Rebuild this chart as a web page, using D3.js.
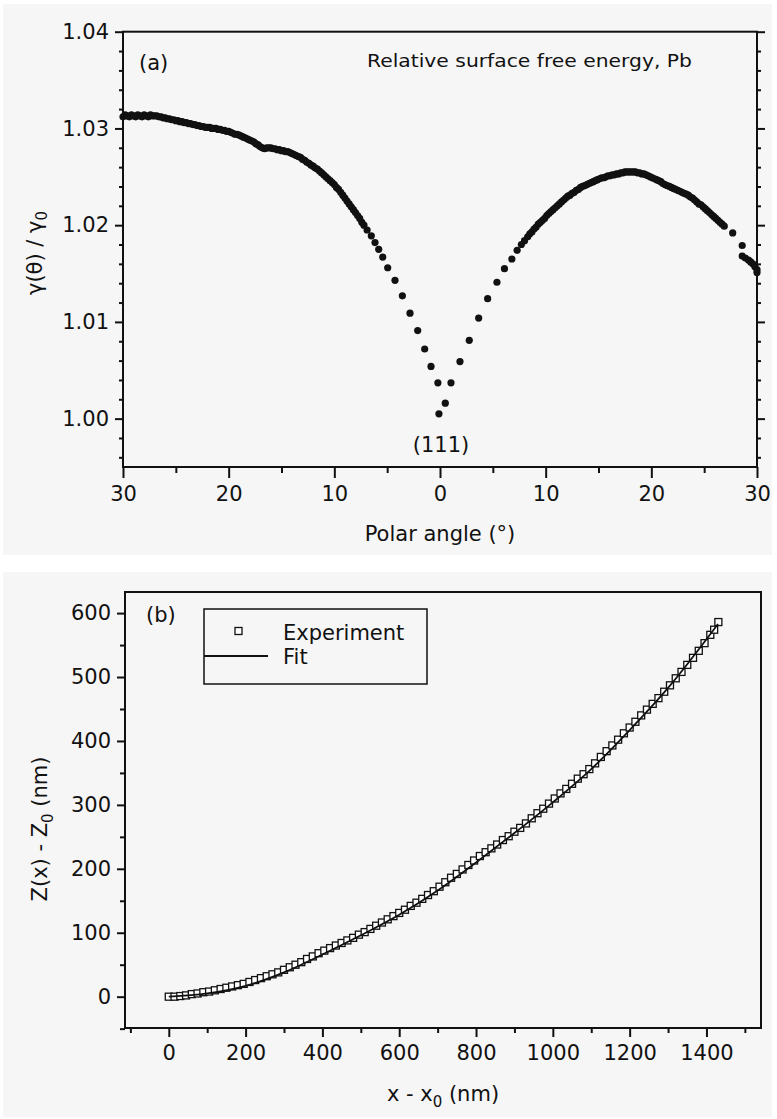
<!DOCTYPE html>
<html>
<head>
<meta charset="utf-8">
<script src="https://cdn.jsdelivr.net/npm/d3@7"></script>
<style>
body { margin: 0; background: #fff; }
text { font-family: "DejaVu Sans", sans-serif; fill: #111; }
</style>
</head>
<body>
<script>
// panel (a): relative surface free energy vs polar angle, three stretches of the scan
var angleLeft = [-30.0,-29.8,-29.6,-29.4,-29.2,-29.0,-28.8,-28.6,-28.4,-28.2,-28.0,-27.8,-27.6,-27.4,-27.2,-27.0,-26.8,-26.6,
  -26.4,-26.2,-26.0,-25.8,-25.6,-25.4,-25.2,-25.0,-24.8,-24.6,-24.4,-24.2,-24.0,-23.8,-23.6,-23.4,-23.2,-23.0,-22.8,-22.6,
  -22.4,-22.2,-22.0,-21.8,-21.6,-21.4,-21.2,-21.0,-20.8,-20.6,-20.4,-20.2,-20.0,-19.8,-19.6,-19.4,-19.2,-19.0,-18.8,-18.6,
  -18.4,-18.2,-18.0,-17.8,-17.6,-17.4,-17.2,-17.0,-16.8,-16.6,-16.4,-16.2,-16.0,-15.8,-15.6,-15.4,-15.2,-15.0,-14.8,-14.6,
  -14.4,-14.2,-14.0,-13.8,-13.6,-13.4,-13.2,-13.0,-12.8,-12.6,-12.4,-12.2,-12.0,-11.8,-11.6,-11.4,-11.2,-11.0,-10.8,-10.6,
  -10.4,-10.2,-10.0,-9.8,-9.6,-9.4,-9.2,-9.0,-8.8,-8.6,-8.4,-8.2,-8.0,-7.8,-7.6,-7.4,-7.2,-6.9,-6.5,-6.15,-5.8];
var gammaLeft = [1.0312,1.0314,1.0313,1.0312,1.0314,1.0313,1.0312,1.0314,1.0313,1.0312,1.0314,1.0313,1.0312,1.0314,1.0313,1.0313,1.0313,1.0312,
  1.0312,1.0311,1.0311,1.0310,1.0310,1.0309,1.0309,1.0308,1.0308,1.0307,1.0307,1.0306,1.0306,1.0305,1.0305,1.0304,1.0304,1.0303,1.0303,1.0302,
  1.0302,1.0301,1.0301,1.0301,1.0300,1.0300,1.0300,1.0299,1.0299,1.0298,1.0298,1.0297,1.0297,1.0296,1.0295,1.0294,1.0294,1.0293,1.0292,1.0291,
  1.0290,1.0289,1.0288,1.0287,1.0286,1.0284,1.0283,1.0281,1.0280,1.0279,1.0280,1.0280,1.0280,1.0279,1.0279,1.0278,1.0278,1.0277,1.0277,1.0276,
  1.0276,1.0275,1.0274,1.0273,1.0272,1.0271,1.0270,1.0268,1.0267,1.0265,1.0264,1.0262,1.0261,1.0259,1.0258,1.0256,1.0254,1.0252,1.0250,1.0248,
  1.0246,1.0244,1.0242,1.0239,1.0237,1.0234,1.0231,1.0228,1.0225,1.0222,1.0219,1.0216,1.0213,1.0210,1.0207,1.0203,1.0200,1.0195,1.0189,1.0182,1.0175];
var angleCentre = [-5.42,-4.95,-4.26,-3.56,-2.84,-2.11,-1.45,-0.85,-0.2,-0.1,0.5,1.04,1.89,2.77,3.66,4.51,5.39,6.1,6.8];
var gammaCentre = [1.0167,1.0156,1.0143,1.0127,1.0109,1.0091,1.0072,1.0054,1.0037,1.0005,1.0016,1.0037,1.0059,1.0081,1.0104,1.0124,1.0141,1.0155,1.0165];
var angleRight = [7.3,7.7,8.0,8.3,8.5,8.7,8.9,9.1,9.3,9.5,9.7,9.9,10.1,10.3,10.5,10.7,10.9,11.1,11.3,11.5,11.7,11.9,12.1,12.3,12.5,
  12.7,12.9,13.1,13.3,13.5,13.7,13.9,14.1,14.3,14.5,14.7,14.9,15.1,15.3,15.5,15.7,15.9,16.1,16.3,16.5,16.7,16.9,17.1,17.3,17.5,
  17.7,17.9,18.1,18.3,18.5,18.7,18.9,19.1,19.3,19.5,19.7,19.9,20.1,20.3,20.5,20.7,20.9,21.1,21.3,21.5,21.7,21.9,22.1,22.3,22.5,
  22.7,22.9,23.1,23.3,23.5,23.7,23.9,24.1,24.3,24.5,24.7,24.9,25.1,25.3,25.5,25.7,25.9,26.1,26.3,26.5,26.7,26.9,27.7,28.6,28.6,
  28.9,29.2,29.4,29.6,29.8,30.0,30.0];
var gammaRight = [1.0174,1.0180,1.0184,1.0188,1.0191,1.0193,1.0196,1.0198,1.0201,1.0203,1.0205,1.0207,1.0210,1.0212,1.0214,1.0216,1.0218,1.0220,1.0222,1.0224,1.0226,1.0228,1.0230,1.0231,1.0233,
  1.0234,1.0236,1.0237,1.0239,1.0240,1.0241,1.0242,1.0243,1.0244,1.0245,1.0246,1.0247,1.0248,1.0249,1.0249,1.0250,1.0251,1.0251,1.0252,1.0252,1.0253,1.0253,1.0254,1.0254,1.0255,
  1.0255,1.0255,1.0255,1.0255,1.0255,1.0254,1.0254,1.0253,1.0253,1.0252,1.0251,1.0250,1.0249,1.0248,1.0247,1.0246,1.0245,1.0243,1.0242,1.0241,1.0240,1.0239,1.0238,1.0237,1.0236,
  1.0235,1.0234,1.0233,1.0232,1.0231,1.0229,1.0228,1.0226,1.0224,1.0222,1.0221,1.0219,1.0217,1.0215,1.0213,1.0211,1.0209,1.0207,1.0205,1.0203,1.0201,1.0199,1.0192,1.0179,1.0168,
  1.0166,1.0164,1.0162,1.0160,1.0157,1.0154,1.0151];
var angleTicks = [-30,-20,-10,0,10,20,30];
var angleMinor = [-25,-15,-5,5,15,25];
var gammaTicks = [1.00,1.01,1.02,1.03,1.04];

// panel (b): profile Z(x) - Z0 vs x - x0
var xExp = [0,15,30,45,60,75,90,105,120,135,150,165,180,195,210,225,240,255,270,285,300,315,330,345,360,375,390,405,420,435,
  450,465,480,495,510,525,540,555,570,585,600,615,630,645,660,675,690,705,720,735,750,765,780,795,810,825,840,855,870,885,
  900,915,930,945,960,975,990,1005,1020,1035,1050,1065,1080,1095,1110,1125,1140,1155,1170,1185,1200,1215,1230,1245,1260,1275,
  1290,1305,1320,1335,1350,1365,1380,1395,1410,1420,1431];
var zExp = [0,0,1,2,4,5,7,8,10,12,14,16,18,20,23,26,29,32,35,38,42,46,50,54,59,63,68,72,76,80,
  84,88,92,97,101,106,111,116,121,126,131,136,142,147,153,159,165,172,179,186,192,199,206,213,220,226,232,238,245,251,
  258,264,271,279,287,294,302,310,318,325,333,341,348,356,365,375,384,393,402,412,421,430,440,449,458,467,
  477,487,498,508,519,530,541,553,566,574,586];
var xFit = [0,100,200,300,400,500,600,700,800,900,1000,1100,1200,1300,1430];
var zFit = [0,5,17,38,66,96,128,166,210,256,304,356,417,483,583];
var xTicksB = [0,200,400,600,800,1000,1200,1400];
var xMinorB = [-100,100,300,500,700,900,1100,1300,1500];
var zTicksB = [0,100,200,300,400,500,600];
var zMinorB = [-50,50,150,250,350,450,550];

var polarAngle = angleLeft.concat(angleCentre, angleRight);
var gammaRatio = gammaLeft.concat(gammaCentre, gammaRight);

var svg = d3.select("body").append("svg").attr("width", 777).attr("height", 1119);

svg.append("rect").attr("x", 3).attr("y", 4).attr("width", 769).attr("height", 551).attr("fill", "#f6f6f6");
svg.append("rect").attr("x", 3).attr("y", 572).attr("width", 769).attr("height", 545).attr("fill", "#f6f6f6");

function styleAxis(g) {
  g.select(".domain").remove();
  g.selectAll("line").attr("stroke", "#111").attr("stroke-width", 2);
  g.selectAll("text").attr("font-size", 21).attr("font-family", "DejaVu Sans, sans-serif").attr("fill", "#111");
}

// ---------- panel (a) ----------
var xA = d3.scaleLinear().domain([-30, 30]).range([123, 757]);
var yA = d3.scaleLinear().domain([0.995, 1.04]).range([467, 31.7]);

var gammaMinor = d3.range(0, 23).map(function(i) { return 0.996 + i * 0.002; }).filter(function(v) {
  return Math.abs(v * 100 - Math.round(v * 100)) > 1e-6;
});

svg.append("g").attr("transform", "translate(0,467)")
  .call(d3.axisBottom(xA).tickValues(angleTicks).tickSize(11).tickPadding(8).tickFormat(function(d) { return Math.abs(d); }))
  .call(styleAxis);
svg.append("g").attr("transform", "translate(0,467)")
  .call(d3.axisBottom(xA).tickValues(angleMinor).tickSize(6).tickFormat(""))
  .call(styleAxis);
svg.append("g").attr("transform", "translate(123,0)")
  .call(d3.axisLeft(yA).tickValues(gammaTicks).tickSize(8).tickPadding(6).tickFormat(d3.format(".2f")))
  .call(styleAxis);
svg.append("g").attr("transform", "translate(123,0)")
  .call(d3.axisLeft(yA).tickValues(gammaMinor).tickSize(4).tickFormat(""))
  .call(styleAxis);
svg.append("g").attr("transform", "translate(757,0)")
  .call(d3.axisLeft(yA).tickValues(gammaTicks).tickSize(-8).tickFormat(""))
  .call(styleAxis);
svg.append("g").attr("transform", "translate(757,0)")
  .call(d3.axisLeft(yA).tickValues(gammaMinor).tickSize(-4).tickFormat(""))
  .call(styleAxis);

svg.append("rect").attr("x", 123).attr("y", 31.7).attr("width", 634).attr("height", 435.3)
  .attr("fill", "none").attr("stroke", "#111").attr("stroke-width", 2);

svg.append("g").selectAll("circle").data(polarAngle).enter().append("circle")
  .attr("cx", function(d) { return xA(d); })
  .attr("cy", function(d, i) { return yA(gammaRatio[i]); })
  .attr("r", 3.6)
  .attr("fill", "#111");

svg.append("text").attr("x", 139).attr("y", 70).attr("font-size", 21).text("(a)");
svg.append("text").attr("x", 367).attr("y", 67).attr("font-size", 18)
  .attr("textLength", 325).attr("lengthAdjust", "spacingAndGlyphs").text("Relative surface free energy, Pb");
svg.append("text").attr("x", 441).attr("y", 452).attr("font-size", 21).attr("text-anchor", "middle").text("(111)");
svg.append("text").attr("x", 440).attr("y", 541).attr("font-size", 21).attr("text-anchor", "middle").text("Polar angle (°)");

var ylabA = svg.append("text").attr("transform", "translate(42,253) rotate(-90)")
  .attr("font-size", 21).attr("text-anchor", "middle");
ylabA.append("tspan").text("γ(θ) / γ");
ylabA.append("tspan").attr("font-size", 15).attr("dy", 5).text("0");

// ---------- panel (b) ----------
var xB = d3.scaleLinear().domain([-114, 1542]).range([125, 761]);
var yB = d3.scaleLinear().domain([-49, 633]).range([1028, 592]);

svg.append("g").attr("transform", "translate(0,1028)")
  .call(d3.axisBottom(xB).tickValues(xTicksB).tickSize(9).tickPadding(8).tickFormat(d3.format("d")))
  .call(styleAxis);
svg.append("g").attr("transform", "translate(0,1028)")
  .call(d3.axisBottom(xB).tickValues(xMinorB).tickSize(5).tickFormat(""))
  .call(styleAxis);
svg.append("g").attr("transform", "translate(125,0)")
  .call(d3.axisLeft(yB).tickValues(zTicksB).tickSize(8).tickPadding(6).tickFormat(d3.format("d")))
  .call(styleAxis);
svg.append("g").attr("transform", "translate(125,0)")
  .call(d3.axisLeft(yB).tickValues(zMinorB).tickSize(5).tickFormat(""))
  .call(styleAxis);

svg.append("rect").attr("x", 125).attr("y", 592).attr("width", 636).attr("height", 436)
  .attr("fill", "none").attr("stroke", "#111").attr("stroke-width", 2);

svg.append("g").selectAll("rect").data(xExp).enter().append("rect")
  .attr("x", function(d) { return xB(d) - 3.5; })
  .attr("y", function(d, i) { return yB(zExp[i]) - 3.5; })
  .attr("width", 7).attr("height", 7)
  .attr("fill", "#fff").attr("stroke", "#111").attr("stroke-width", 1.3);

var fitLine = d3.line()
  .x(function(d) { return xB(d); })
  .y(function(d, i) { return yB(zFit[i]); })
  .curve(d3.curveMonotoneX);
svg.append("path").datum(xFit).attr("d", fitLine)
  .attr("fill", "none").attr("stroke", "#111").attr("stroke-width", 1.8);

// legend
svg.append("rect").attr("x", 204).attr("y", 609).attr("width", 223).attr("height", 75)
  .attr("fill", "#f6f6f6").attr("stroke", "#111").attr("stroke-width", 1.5);
svg.append("rect").attr("x", 235).attr("y", 627.5).attr("width", 7).attr("height", 7)
  .attr("fill", "#fff").attr("stroke", "#111").attr("stroke-width", 1.3);
svg.append("line").attr("x1", 204).attr("x2", 268).attr("y1", 656).attr("y2", 656)
  .attr("stroke", "#111").attr("stroke-width", 1.8);
svg.append("text").attr("x", 283).attr("y", 640).attr("font-size", 21).text("Experiment");
svg.append("text").attr("x", 283).attr("y", 664).attr("font-size", 21).text("Fit");

svg.append("text").attr("x", 146).attr("y", 622).attr("font-size", 21).text("(b)");

var xlabB = svg.append("text").attr("x", 443).attr("y", 1101).attr("font-size", 21).attr("text-anchor", "middle");
xlabB.append("tspan").text("x - x");
xlabB.append("tspan").attr("font-size", 15).attr("dy", 6).text("0");
xlabB.append("tspan").attr("dy", -6).text("  (nm)");

var ylabB = svg.append("text").attr("transform", "translate(47,829) rotate(-90)")
  .attr("font-size", 21).attr("text-anchor", "middle");
ylabB.append("tspan").text("Z(x) - Z");
ylabB.append("tspan").attr("font-size", 15).attr("dy", 6).text("0");
ylabB.append("tspan").attr("dy", -6).text("  (nm)");
</script>
</body>
</html>
